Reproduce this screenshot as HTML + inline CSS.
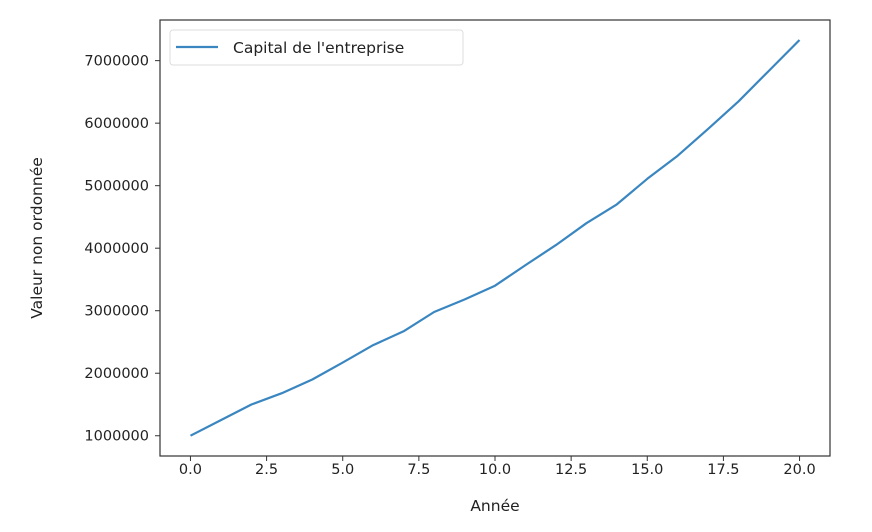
<!DOCTYPE html>
<html><head><meta charset="utf-8">
<style>body{margin:0;background:#fff}svg{display:block;font-family:"DejaVu Sans","Liberation Sans",sans-serif}</style>
</head><body>
<svg width="872" height="532">
<g id="plot"></g>
</svg>
<script>
const years=[0,1,2,3,4,5,6,7,8,9,10,11,12,13,14,15,16,17,18,19,20];
const capital=[1000000,1250000,1500000,1680000,1900000,2170000,2450000,2670000,2980000,3180000,3400000,3730000,4050000,4400000,4700000,5110000,5480000,5910000,6350000,6840000,7330000];
const xTicks=[0,2.5,5,7.5,10,12.5,15,17.5,20];
const xTickLabels=["0.0","2.5","5.0","7.5","10.0","12.5","15.0","17.5","20.0"];
const yTicks=[1000000,2000000,3000000,4000000,5000000,6000000,7000000];
const yTickLabels=["1000000","2000000","3000000","4000000","5000000","6000000","7000000"];
const L=160,R=830,T=20,B=456;
const xmin=-1,xmax=21,ymin=676000,ymax=7650000;
const X=v=>L+(v-xmin)/(xmax-xmin)*(R-L);
const Y=v=>B-(v-ymin)/(ymax-ymin)*(B-T);
const NS="http://www.w3.org/2000/svg";
const g=document.getElementById('plot');
function mk(t,a,txt){const e=document.createElementNS(NS,t);for(const k in a)e.setAttribute(k,a[k]);if(txt!==undefined)e.textContent=txt;g.appendChild(e);return e;}
xTicks.forEach((v,i)=>{
 const t=mk('line',{x1:X(v),x2:X(v),y1:B,y2:B+5,stroke:'#333','stroke-width':1});
 
 
 const l=mk('text',{x:X(v),y:B+18,'text-anchor':'middle','font-size':14.5,fill:'#222'},xTickLabels[i]);
 
 
});
yTicks.forEach((v,i)=>{
 const t=mk('line',{x1:L-5,x2:L,y1:Y(v),y2:Y(v),stroke:'#333','stroke-width':1});
 
 
 const l=mk('text',{x:L-11,y:Y(v)+5,'text-anchor':'end','font-size':14.5,fill:'#222'},yTickLabels[i]);
 
 
});
const pts=years.map((v,i)=>X(v).toFixed(1)+','+Y(capital[i]).toFixed(1)).join(' ');
const line=mk('polyline',{points:pts,fill:'none',stroke:'#3a86c0','stroke-width':2.2,'stroke-linejoin':'round'});


const fr=mk('rect',{x:L,y:T,width:R-L,height:B-T,fill:'none',stroke:'#333','stroke-width':1.2});


const lb=mk('rect',{x:170,y:30,width:293,height:35,rx:3,fill:'#fff',stroke:'#ddd','stroke-width':1});


const ll=mk('line',{x1:176,x2:218,y1:47,y2:47,stroke:'#3a86c0','stroke-width':2.2});


const lt=mk('text',{x:233,y:53,'font-size':15.5,fill:'#222'},"Capital de l'entreprise");


const xt=mk('text',{x:(L+R)/2,y:511,'text-anchor':'middle','font-size':15.5,fill:'#222'},"Année");


const yt=mk('text',{x:0,y:0,'text-anchor':'middle','font-size':15.5,fill:'#222',transform:'translate(42,'+((T+B)/2)+') rotate(-90)'},"Valeur non ordonnée");


</script>
</body></html>
